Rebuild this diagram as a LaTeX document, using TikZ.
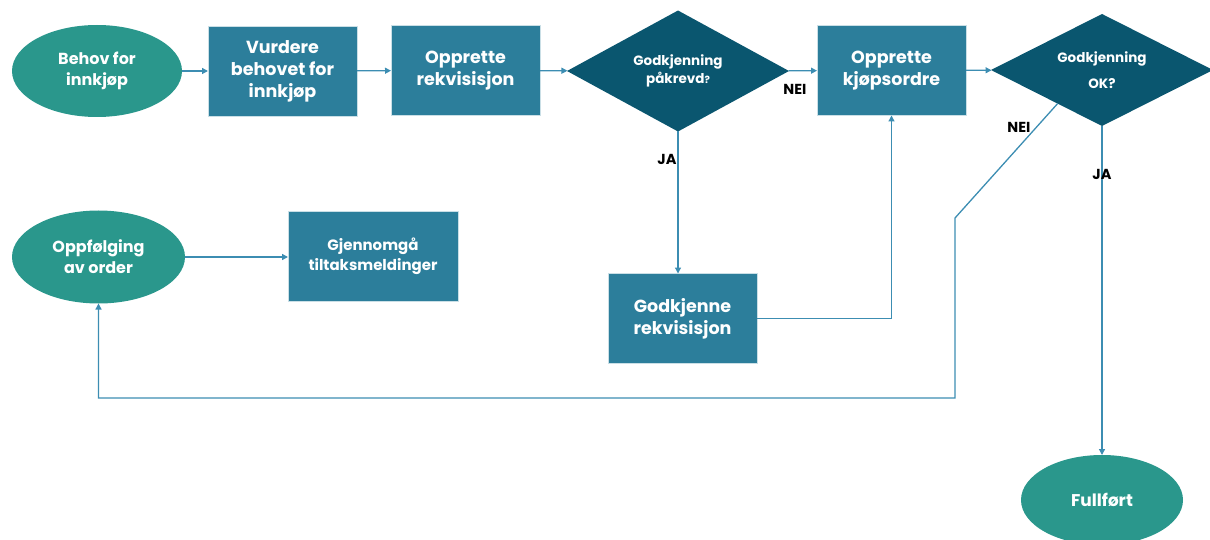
\documentclass[tikz,border=0pt]{standalone}
\usepackage{fontspec}
\setmainfont{Poppins}
\usetikzlibrary{shapes.geometric,arrows.meta,calc}
\definecolor{startend}{HTML}{2A978C}
\definecolor{task}{HTML}{2C7E9B}
\definecolor{decision}{HTML}{0A566F}
\definecolor{flow}{HTML}{3C8DB2}
\begin{document}
\begin{tikzpicture}[x=1pt,y=-1pt,
  terminal/.style={ellipse, fill=startend, minimum width=170pt, minimum height=92pt,
    inner sep=0pt, outer sep=0pt, text=white, align=center,
    font=\bfseries\fontsize{16}{21}\selectfont},
  taskbox/.style={rectangle, fill=task, draw=white!75!task, line width=0.6pt,
    minimum width=149pt, minimum height=90pt, inner sep=0pt, outer sep=0pt,
    text=white, align=center, font=\bfseries\fontsize{17.5}{22}\selectfont},
  decide/.style={diamond, aspect=2, fill=decision, minimum width=222pt, minimum height=121pt,
    inner sep=0pt, outer sep=0pt, text=white, align=center,
    font=\bfseries\fontsize{13.5}{18}\selectfont},
  flowline/.style={draw=flow, line width=1.3pt, -{Triangle[length=6pt,width=6pt]}},
  branch/.style={text=black, font=\bfseries\fontsize{14.5}{16}\selectfont}
]
\useasboundingbox (0,0) rectangle (1210,540);

% top row
\node[terminal] (need) at (97,71) {Behov for\\innkjøp};
\node[taskbox] (assess) at (282.5,71) {Vurdere\\behovet for\\innkjøp};
\node[taskbox] (req) at (465.5,70.5) {Opprette\\rekvisisjon};
\node[decide] (needok) at (678,71) {Godkjenning\\påkrevd\fontsize{10}{18}\selectfont?};
\node[decide, minimum width=222pt, minimum height=112pt] (ok) at (1102,70) {Godkjenning\\[8pt]OK?};
\node[taskbox] (po) at (891.5,70.5) {Opprette\\kjøpsordre};

% lower part
\node[terminal, minimum width=173pt, minimum height=93pt] (follow) at (98.5,257) {Oppfølging\\av order};
\node[taskbox, minimum width=170pt, font=\bfseries\fontsize{15}{20}\selectfont] (review) at (373,256.5) {Gjennomgå\\tiltaksmeldinger};
\node[taskbox] (approve) at (682.5,318.5) {Godkjenne\\rekvisisjon};
\node[terminal, minimum width=162pt, minimum height=90pt, font=\bfseries\fontsize{17}{21}\selectfont] (done) at (1102,500) {Fullført};

% main flow
\draw[flowline] (need) -- (assess);
\draw[flowline] (assess) -- (req);
\draw[flowline] (req) -- (needok);
\draw[flowline] (needok) -- (po);
\draw[flowline] (po) -- (ok);
\draw[flowline] (follow.east) -- (follow.east -| review.west);

% approval branch
\draw[flowline] (needok.south) -- (needok.south |- approve.north);
\draw[flowline] (approve.east) -| (po.south);
\draw[flowline] (ok.south) -- (done.north);

% rejected order goes back to follow-up
\coordinate (reject) at ($(ok.west)!0.6!(ok.south)$);
\coordinate (kink) at (955,218);
\coordinate (low) at (955,398);
\draw[flowline] (reject) -- (kink) -- (low) -| (follow.south);

% branch labels
\node[branch] (nei1) at (795,89) {NEI};
\node[branch] (ja1) at (667,159) {JA};
\node[branch] (nei2) at (1019,127) {NEI};
\node[branch] (ja2) at (1102,174) {JA};
\end{tikzpicture}
\end{document}
